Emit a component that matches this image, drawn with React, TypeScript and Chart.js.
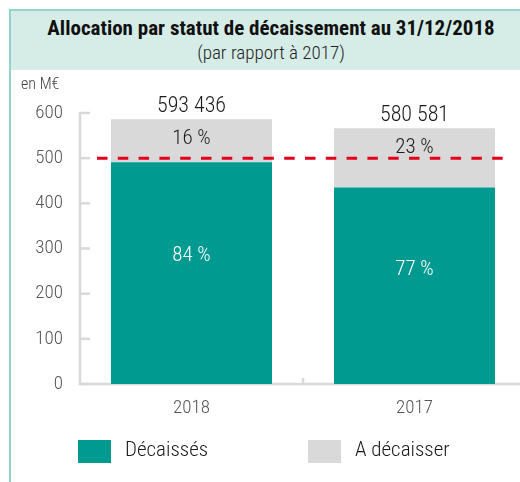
import React, { useEffect, useRef } from "react";
import { Chart, registerables } from "chart.js";

Chart.register(...registerables);

const categories = ["2018", "2017"];
const decaisses = [491, 435];
const aDecaisser = [95, 131];
const totalLabels = ["593 436", "580 581"];
const pctDecaisses = ["84 %", "77 %"];
const pctADecaisser = ["16 %", "23 %"];
const yTicks = [0, 100, 200, 300, 400, 500, 600];
const thresholdValue = 500;
const seriesNames = ["Décaissés", "A décaisser"];

const TEAL = "#009a90";
const GREY = "#d9d9d9";
const RED = "#e3001b";
const AXIS = "#d9d9d9";
const FONT = "'Roboto Condensed', 'Liberation Sans Narrow', 'Arial Narrow', 'DejaVu Sans Condensed', sans-serif";

const overlayPlugin = {
  id: "overlay",
  beforeDatasetsDraw(chart: any) {
    const { ctx, chartArea } = chart;
    const y = chart.scales.y;
    const x = chart.scales.x;
    ctx.save();
    ctx.strokeStyle = AXIS;
    ctx.lineWidth = 2.5;
    ctx.beginPath();
    ctx.moveTo(chartArea.left, y.getPixelForValue(600) - 1.2);
    ctx.lineTo(chartArea.left, chartArea.bottom + 1.2);
    ctx.stroke();
    y.ticks.forEach((t: any) => {
      const py = y.getPixelForValue(t.value);
      ctx.beginPath();
      ctx.moveTo(chartArea.left, py);
      ctx.lineTo(chartArea.left + 10, py);
      ctx.stroke();
    });
    ctx.beginPath();
    ctx.moveTo(chartArea.left - 1.2, chartArea.bottom);
    ctx.lineTo(chartArea.right, chartArea.bottom);
    ctx.stroke();
    for (let i = 0; i < categories.length - 1; i++) {
      const px = (x.getPixelForValue(i) + x.getPixelForValue(i + 1)) / 2;
      ctx.beginPath();
      ctx.moveTo(px, chartArea.bottom);
      ctx.lineTo(px, chartArea.bottom - 6);
      ctx.stroke();
    }
    ctx.fillStyle = "#444";
    ctx.font = `300 16px ${FONT}`;
    ctx.textAlign = "left";
    ctx.textBaseline = "middle";
    ctx.fillText("en M€", 21, 85);
    ctx.restore();
  },
  afterDatasetsDraw(chart: any) {
    const { ctx } = chart;
    const m0 = chart.getDatasetMeta(0).data;
    const m1 = chart.getDatasetMeta(1).data;
    const y = chart.scales.y;
    ctx.save();
    ctx.textAlign = "center";
    ctx.textBaseline = "middle";
    categories.forEach((_, i) => {
      const b0: any = m0[i];
      const b1: any = m1[i];
      ctx.fillStyle = "#1a1a1a";
      ctx.font = `300 22px ${FONT}`;
      ctx.fillText(totalLabels[i], b1.x, b1.y - 13);
      ctx.font = `300 21px ${FONT}`;
      ctx.fillText(pctADecaisser[i], b1.x, b1.y + 19);
      ctx.fillStyle = "#ffffff";
      ctx.fillText(pctDecaisses[i], b0.x, b0.base - 0.58 * (b0.base - b0.y));
    });
    const first: any = m0[0];
    const last: any = m0[m0.length - 1];
    const py = y.getPixelForValue(thresholdValue);
    ctx.strokeStyle = RED;
    ctx.lineWidth = 3;
    ctx.setLineDash([10.5, 10.3]);
    ctx.beginPath();
    ctx.moveTo(first.x - first.width / 2 - 14, py);
    ctx.lineTo(last.x + last.width / 2 + 10, py);
    ctx.stroke();
    ctx.setLineDash([]);
    ctx.restore();
  },
  afterDraw(chart: any) {
    const { ctx } = chart;
    const colors = [TEAL, GREY];
    const boxX = [78, 308];
    ctx.save();
    ctx.textAlign = "left";
    ctx.textBaseline = "middle";
    ctx.font = `300 21px ${FONT}`;
    seriesNames.forEach((name, i) => {
      ctx.fillStyle = colors[i];
      ctx.fillRect(boxX[i], 440, 33, 23);
      ctx.fillStyle = "#1a1a1a";
      ctx.fillText(name, boxX[i] + 47, 451);
    });
    ctx.restore();
  },
};

export default function App() {
  const ref = useRef<HTMLCanvasElement | null>(null);
  useEffect(() => {
    if (!ref.current) return;
    const chart = new Chart(ref.current, {
      type: "bar",
      data: {
        labels: categories,
        datasets: [
          { label: seriesNames[0], data: decaisses, backgroundColor: TEAL, borderWidth: 0 },
          { label: seriesNames[1], data: aDecaisser, backgroundColor: GREY, borderWidth: 0 },
        ],
      },
      options: {
        responsive: false,
        animation: false,
        devicePixelRatio: 1,
        layout: { padding: { top: 113, right: 14, bottom: 0, left: 0 } },
        datasets: { bar: { categoryPercentage: 1, barPercentage: 0.722 } },
        plugins: { legend: { display: false }, tooltip: { enabled: false }, title: { display: false } },
        scales: {
          x: {
            stacked: true,
            grid: { display: false, drawTicks: false },
            border: { display: false },
            ticks: { color: "#555", font: { family: FONT, size: 19, weight: "300" }, padding: 13 },
            afterFit: (s: any) => { s.height = 98; },
          },
          y: {
            stacked: true,
            min: 0,
            max: 600,
            afterBuildTicks: (s: any) => { s.ticks = yTicks.map((v) => ({ value: v })); },
            grid: { display: false, drawTicks: false },
            border: { display: false },
            ticks: { color: "#555", font: { family: FONT, size: 19, weight: "300" }, padding: 17 },
            afterFit: (s: any) => { s.width = 80; },
          },
        },
      },
      plugins: [overlayPlugin],
    });
    return () => chart.destroy();
  }, []);

  return (
    <div style={{ position: "fixed", left: 0, top: 0, width: 520, height: 482, overflow: "hidden", background: "#fff" }}>
      <div
        style={{
          position: "absolute",
          left: 9,
          top: 9,
          width: 600,
          height: 600,
          borderLeft: "2px solid #8fd4cd",
          borderTop: "2px solid #8fd4cd",
        }}
      />
      <div
        style={{
          position: "absolute",
          left: 11,
          top: 11,
          width: 520,
          height: 59,
          background: "#d6ede7",
          fontFamily: FONT,
          textAlign: "center",
          color: "#111",
        }}
      >
        <div style={{ position: "absolute", left: 0, right: 0, top: 4, fontSize: 21, fontWeight: "bold", lineHeight: "26px" }}>
          Allocation par statut de décaissement au 31/12/2018
        </div>
        <div style={{ position: "absolute", left: 0, right: 0, top: 30, fontSize: 19, fontWeight: 300, lineHeight: "24px", color: "#222" }}>
          (par rapport à 2017)
        </div>
      </div>
      <canvas ref={ref} width={540} height={482} style={{ position: "absolute", left: 0, top: 0 }} />
    </div>
  );
}
